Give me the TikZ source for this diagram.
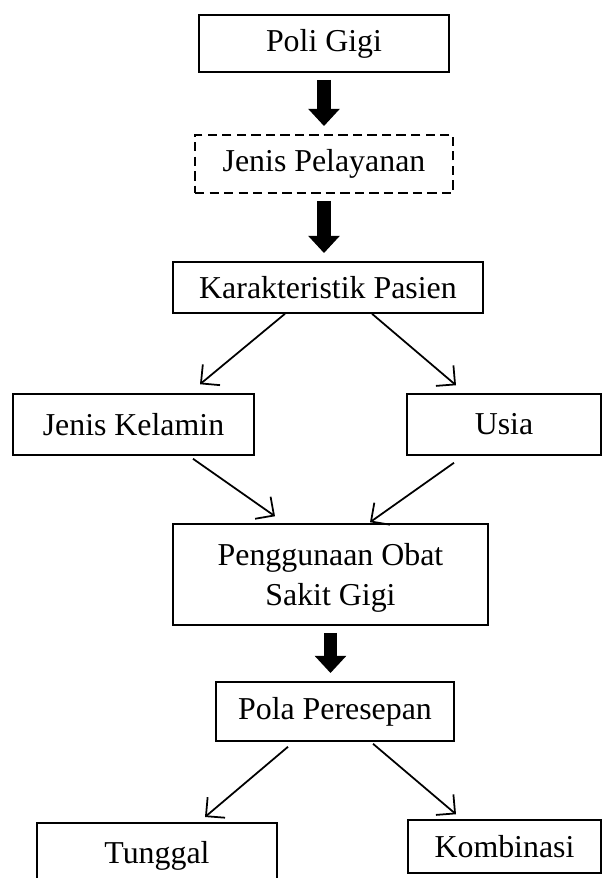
\documentclass[tikz,border=0pt]{standalone}
\usepackage{fontspec}
\setmainfont{Liberation Serif}
\usetikzlibrary{arrows.meta, positioning, calc}
\tikzset{
  box/.style={rectangle, draw=black, line width=0.65pt, inner sep=0pt,
    align=center, font=\fontsize{13.6}{17}\selectfont},
  dashbox/.style={box, dash pattern=on 4pt off 2.2pt},
  arrow/.style={-{Straight Barb[length=5.8pt, width=11.5pt]}, line width=0.75pt},
  fatarrow/.style={-{Triangle[width=13pt, length=7.3pt]}, line width=5.8pt,
    shorten <=3pt, shorten >=3.5pt}
}

\begin{document}
\begin{tikzpicture}[x=0.015cm, y=-0.015cm]
  \useasboundingbox (0,0) rectangle (602,878);

  \node[box, minimum width=3.75cm, minimum height=0.855cm] (poli) at (324, 43.5) {Poli Gigi};
  \node[dashbox, minimum width=3.87cm, minimum height=0.87cm] (layanan) at (324, 164) {Jenis Pelayanan};
  \node[box, minimum width=4.65cm, minimum height=0.765cm] (karakter) at (328, 287.5) {Karakteristik Pasien};

  \node[box, minimum width=3.615cm, minimum height=0.915cm] (kelamin) at (133.5, 424.5) {Jenis Kelamin};
  \node[box, minimum width=2.91cm, minimum height=0.915cm] (usia) at (504, 424.5) {Usia};

  \node[box, minimum width=4.725cm, minimum height=1.515cm, text depth=0pt] (obat) at (330.5, 574.5) {Penggunaan Obat\\Sakit Gigi};
  \node[box, minimum width=3.57cm, minimum height=0.885cm] (pola) at (335, 711.5) {Pola Peresepan};

  \node[box, anchor=north, minimum width=3.6cm, text height=0.615cm, text depth=0.6cm] (tunggal) at (157, 822) {Tunggal};
  \node[box, minimum width=2.895cm, minimum height=0.795cm] (kombinasi) at (504.5, 846.5) {Kombinasi};

  % Thick arrows
  \draw[fatarrow] (poli.south) -- (poli.south |- layanan.north);
  \draw[fatarrow] (layanan.south) -- (layanan.south |- karakter.north);
  \draw[fatarrow] (obat.south) -- (obat.south |- pola.north);

  % Branches
  \draw[arrow] ($(karakter.south)+(-43,0)$) -- ($(kelamin.north)+(66.5,-9)$);
  \draw[arrow] ($(karakter.south)+(44,0)$) -- ($(usia.north)+(-48,-8)$);
  \draw[arrow] ($(kelamin.south)+(59.5,3)$) -- ($(obat.north)+(-55.5,-7)$);
  \draw[arrow] ($(usia.south)+(-50,7)$) -- ($(obat.north)+(39.5,-1)$);
  \draw[arrow] ($(pola.south)+(-47,5)$) -- ($(tunggal.north)+(48,-5)$);
  \draw[arrow] ($(pola.south)+(38,2)$) -- ($(kombinasi.north)+(-48.5,-5)$);
\end{tikzpicture}
\end{document}
